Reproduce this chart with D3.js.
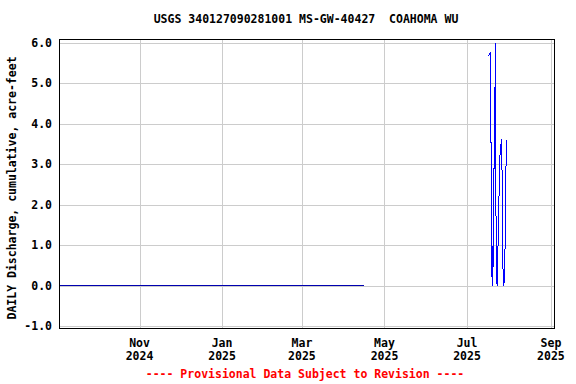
<!DOCTYPE html>
<html>
<script src="https://d3js.org/d3.v7.min.js"></script>
<body style="margin:0;background:#fff">
<svg id="myPlot" width="576" height="384"></svg>

<script>
// Data
const title = "USGS 340127090281001 MS-GW-40427  COAHOMA WU";
const yTicks = [-1, 0, 1, 2, 3, 4, 5, 6];
const monthTicks = ["2024-11-01", "2025-01-01", "2025-03-01", "2025-05-01", "2025-07-01", "2025-09-01"];

// flat zero period
const zeroDates = ["2024-09-01T00:00", "2025-04-16T05:00"];
const zeroValues = [0, 0];

// active pumping period
const activeDates = [
  "2025-07-16T18:00", "2025-07-17T18:00", "2025-07-18T12:00", "2025-07-18T18:00",
  "2025-07-19T00:00", "2025-07-19T06:00", "2025-07-19T12:00", "2025-07-19T18:00",
  "2025-07-19T23:00", "2025-07-20T11:00", "2025-07-20T18:00", "2025-07-21T05:00",
  "2025-07-21T11:00", "2025-07-21T18:00", "2025-07-22T05:00", "2025-07-22T11:00",
  "2025-07-23T05:00", "2025-07-24T04:00", "2025-07-25T03:00", "2025-07-25T21:00",
  "2025-07-26T15:00", "2025-07-27T03:00", "2025-07-27T15:00", "2025-07-28T03:00",
  "2025-07-28T21:00", "2025-07-29T09:00", "2025-07-30T02:00"
];
const activeValues = [
  5.69, 5.73, 5.76, 3.05,
  3.01, 0.21, 0.99, 0.21,
  0.00, 0.99, 2.89, 2.89,
  4.91, 2.68, 5.99, 0.37,
  0.00, 1.40, 3.13, 3.46,
  3.63, 1.81, 0.25, 0.00,
  0.29, 1.98, 3.59
];

// Dimensions
const plotLeft = 59, plotRight = 554, plotTop = 39, plotBottom = 328;

const svg = d3.select("#myPlot");
const parse = d3.isoParse;

const xScale = d3.scaleTime()
  .domain([parse("2024-09-02T12:00"), parse("2025-09-03T06:00")])
  .range([plotLeft, plotRight]);

const yScale = d3.scaleLinear()
  .domain([-1.05, 6.1])
  .range([plotBottom, plotTop]);

const font = "'DejaVu Sans Mono', monospace";

// grid
svg.append("g")
  .selectAll("line")
  .data(yTicks).enter()
  .append("line")
  .attr("x1", plotLeft).attr("x2", plotRight)
  .attr("y1", d => Math.round(yScale(d)) + 0.5)
  .attr("y2", d => Math.round(yScale(d)) + 0.5)
  .attr("stroke", "#cccccc");

svg.append("g")
  .selectAll("line")
  .data(monthTicks).enter()
  .append("line")
  .attr("y1", plotTop).attr("y2", plotBottom)
  .attr("x1", d => Math.round(xScale(parse(d))) + 0.5)
  .attr("x2", d => Math.round(xScale(parse(d))) + 0.5)
  .attr("stroke", "#cccccc");

// clip
svg.append("clipPath").attr("id", "clip")
  .append("rect")
  .attr("x", plotLeft).attr("y", plotTop)
  .attr("width", plotRight - plotLeft).attr("height", plotBottom - plotTop);

const line = d3.line()
  .x(d => xScale(d[0]))
  .y(d => yScale(d[1]));

svg.append("path")
  .datum(zeroDates.map((d, i) => [parse(d), zeroValues[i]]))
  .attr("clip-path", "url(#clip)")
  .attr("d", line)
  .attr("stroke", "#0000b0")
  .attr("stroke-width", 1)
  .attr("shape-rendering", "crispEdges")
  .attr("fill", "none");

svg.append("path")
  .datum(activeDates.map((d, i) => [parse(d), activeValues[i]]))
  .attr("clip-path", "url(#clip)")
  .attr("d", line)
  .attr("stroke", "#0000ff")
  .attr("stroke-width", 1)
  .attr("shape-rendering", "crispEdges")
  .attr("fill", "none");

// frame
svg.append("rect")
  .attr("x", plotLeft + 0.5).attr("y", plotTop + 0.5)
  .attr("width", plotRight - plotLeft).attr("height", plotBottom - plotTop)
  .attr("fill", "none")
  .attr("stroke", "#000");

// y tick labels
svg.append("g")
  .selectAll("text")
  .data(yTicks).enter()
  .append("text")
  .attr("x", 52)
  .attr("y", d => yScale(d))
  .attr("dy", "0.35em")
  .attr("text-anchor", "end")
  .attr("font-family", font)
  .attr("font-weight", "bold")
  .attr("font-size", "11.5px")
  .text(d => d.toFixed(1));

// x tick labels
const monthFmt = d3.timeFormat("%b"), yearFmt = d3.timeFormat("%Y");
const xl = svg.append("g")
  .selectAll("text")
  .data(monthTicks).enter()
  .append("text")
  .attr("text-anchor", "middle")
  .attr("font-family", font)
  .attr("font-weight", "bold")
  .attr("font-size", "11.5px");
xl.append("tspan")
  .attr("x", d => xScale(parse(d)))
  .attr("y", 347)
  .text(d => monthFmt(parse(d)));
xl.append("tspan")
  .attr("x", d => xScale(parse(d)))
  .attr("y", 360)
  .text(d => yearFmt(parse(d)));

// title
svg.append("text")
  .attr("x", 306).attr("y", 23)
  .attr("text-anchor", "middle")
  .attr("font-family", font)
  .attr("font-weight", "bold")
  .attr("font-size", "11.5px")
  .style("white-space", "pre")
  .text(title);

// y label
svg.append("text")
  .attr("transform", "translate(16,188) rotate(-90)")
  .attr("text-anchor", "middle")
  .attr("font-family", font)
  .attr("font-weight", "bold")
  .attr("font-size", "11.5px")
  .text("DAILY Discharge, cumulative, acre-feet");

// footer
svg.append("text")
  .attr("x", 305).attr("y", 378)
  .attr("text-anchor", "middle")
  .attr("font-family", font)
  .attr("font-weight", "bold")
  .attr("font-size", "11.5px")
  .attr("fill", "#ff0000")
  .text("---- Provisional Data Subject to Revision ----");
</script>

</body>
</html>
